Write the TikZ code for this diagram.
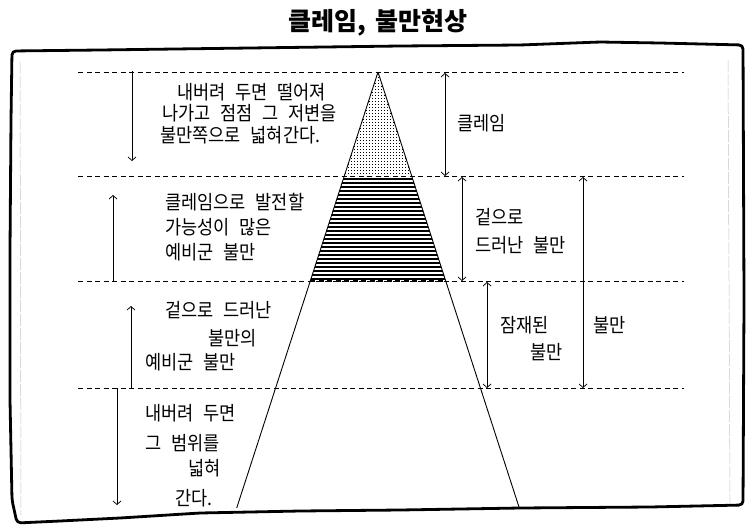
\documentclass[tikz,border=0pt]{standalone}
\usepackage{fontspec}
\newfontfamily\kr[WordSpace=2.5,FakeStretch=0.9]{Noto Sans CJK KR}
\newfontfamily\krt[WordSpace=1.5]{Noto Sans CJK KR}
\usetikzlibrary{arrows.meta}
\begin{document}
\begin{tikzpicture}[x=1pt,y=-1pt,
  lvl/.style={dash pattern=on 5pt off 3.5pt, line width=0.7pt},
  arr/.style={-{Straight Barb[length=3.5pt,width=8pt]}, line width=0.75pt},
  darr/.style={{Straight Barb[length=3.5pt,width=8pt]}-{Straight Barb[length=3.5pt,width=8pt]}, line width=0.75pt},
  side/.style={line width=0.9pt},
  txt/.style={anchor=west, inner sep=0pt, font=\kr\fontsize{19.5}{22}\selectfont},
  frame/.style={line width=2.8pt, line join=round, line cap=round},
  faint/.style={gray!45, line width=0.5pt, dash pattern=on 12pt off 2pt}]
\useasboundingbox (0,0) rectangle (751,530);
\fill[white] (0,0) rectangle (751,530);

% title
\node[font=\krt\bfseries\fontsize{25}{28}\selectfont, inner sep=0pt] (title) at (378,23) {클레임, 불만현상};

% frame
\draw[faint] (20,62) -- (21,515);
\draw[faint] (728,60) -- (730,503);
\draw[frame, rounded corners=4pt] (12,51) -- (100,50) -- (250,48) -- (400,46) -- (520,45) -- (600,42) -- (660,43) -- (743,45)
  -- (744,300) -- (743,505) -- (650,507) -- (520,508) -- (400,510) -- (300,511) -- (200,513) -- (120,518) -- (60,521) -- (17,523)
  -- (12,500) -- (10,400) -- (10,250) -- (11,120) -- cycle;

% level coordinates
\coordinate (d0w) at (78,72);  \coordinate (d0e) at (684,72);
\coordinate (d1w) at (78,176); \coordinate (d1e) at (684,176);
\coordinate (d2w) at (78,281); \coordinate (d2e) at (684,281);
\coordinate (d3w) at (78,388); \coordinate (d3e) at (684,388);

% triangle coordinates
\coordinate (apex) at (378,72);
\coordinate (L1) at (344.3,176); \coordinate (R1) at (411.7,176);
\coordinate (L2) at (310.3,281); \coordinate (R2) at (445.7,281);
\coordinate (bl) at (236.7,508); \coordinate (br) at (519.3,508);

% dotted top
\begin{scope}
  \clip (apex) -- (R1) -- (L1) -- cycle;
  \foreach \x in {336,339,...,420}
    \foreach \y in {74,77,...,176}
      \fill (\x,\y) rectangle ++(1.4,1.4);
\end{scope}
% hatched middle
\begin{scope}
  \clip (L1) -- (R1) -- (R2) -- (L2) -- cycle;
  \foreach \y in {179,183,...,279}
    \draw[line width=1.4pt] (300,\y) -- (460,\y);
\end{scope}

% level lines
\draw[lvl] (d0w) -- (d0e);
\draw[lvl] (d1w) -- (d1e);
\draw[lvl] (d2w) -- (d2e);
\draw[lvl] (d3w) -- (d3e);
\draw[lvl, line width=1.6pt] (L2) -- (R2);

% triangle sides
\draw[side] (apex) -- (bl);
\draw[side] (apex) -- (br);

% left arrows
\coordinate (a1s) at (132,71);  \coordinate (a1e) at (132,161);
\coordinate (a2s) at (113,281); \coordinate (a2e) at (113,195);
\coordinate (a3s) at (131,388); \coordinate (a3e) at (131,306);
\coordinate (a4s) at (117,388); \coordinate (a4e) at (117,505);
\draw[arr] (a1s) -- (a1e);
\draw[arr] (a2s) -- (a2e);
\draw[arr] (a3s) -- (a3e);
\draw[arr] (a4s) -- (a4e);

% right arrows
\coordinate (r1s) at (445,73);  \coordinate (r1e) at (445,176);
\coordinate (r2s) at (462,177); \coordinate (r2e) at (462,281);
\coordinate (r3s) at (487,282); \coordinate (r3e) at (487,388);
\coordinate (r4s) at (583,177); \coordinate (r4e) at (583,388);
\draw[darr] (r1s) -- (r1e);
\draw[darr] (r2s) -- (r2e);
\draw[darr] (r3s) -- (r3e);
\draw[darr] (r4s) -- (r4e);

% left texts
\node[txt] (t11) at (177,92)  {내버려 두면 떨어져};
\node[txt] (t12) at (162,113) {나가고 점점 그 저변을};
\node[txt] (t13) at (160,135) {불만쪽으로 넓혀간다.};
\node[txt] (t21) at (165,202) {클레임으로 발전할};
\node[txt] (t22) at (165,227) {가능성이 많은};
\node[txt] (t23) at (165,252) {예비군 불만};
\node[txt] (t31) at (165,310) {겉으로 드러난};
\node[txt] (t32) at (208,338) {불만의};
\node[txt] (t33) at (145,362) {예비군 불만};
\node[txt] (t41) at (145,413) {내버려 두면};
\node[txt] (t42) at (145,443) {그 범위를};
\node[txt] (t43) at (188,468) {넓혀};
\node[txt] (t44) at (175,498) {간다.};

% right texts
\node[txt] (c1) at (457,123) {클레임};
\node[txt] (s1) at (475,217) {겉으로};
\node[txt] (s2) at (475,245) {드러난 불만};
\node[txt] (p1) at (500,325) {잠재된};
\node[txt] (p2) at (530,352) {불만};
\node[txt] (b1) at (593,325) {불만};
\end{tikzpicture}
\end{document}
